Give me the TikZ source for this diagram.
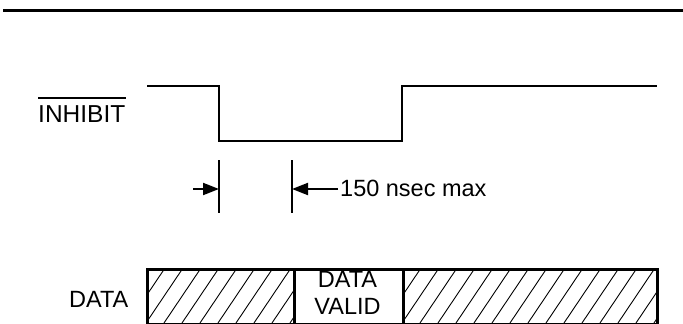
\documentclass[tikz,border=0pt]{standalone}
\usepackage{fontspec}
\setmainfont{Liberation Sans}
\usetikzlibrary{arrows.meta}
\begin{document}
\begin{tikzpicture}[x=1pt,y=-1pt,
  wave/.style={line width=2pt, line join=miter},
  rule/.style={line width=3pt},
  marker/.style={line width=2pt},
  dim/.style={line width=2pt, -{Triangle[length=16pt,width=12pt]}},
  boxline/.style={line width=2.8pt},
  hatch/.style={line width=0.9pt},
  lbl/.style={inner sep=0pt, anchor=base west, font=\fontsize{23.5}{28}\selectfont}]
\useasboundingbox (0,0) rectangle (683,324);
% top rule
\coordinate (r1) at (3,10);
\coordinate (r2) at (683,10);
\draw[rule] (r1) -- (r2);
% INHIBIT label
\node[lbl, font=\fontsize{24.5}{28}\selectfont] (inh) at (38,122) {INHIBIT};
\draw[line width=1.5pt] ([yshift=7pt]inh.north west) -- ([yshift=7pt]inh.north east);
% waveform
\coordinate (w0) at (147,86);
\coordinate (w1) at (219,86);
\coordinate (w2) at (219,141);
\coordinate (w3) at (402,141);
\coordinate (w4) at (402,86);
\coordinate (w5) at (657,86);
\draw[wave] (w0) -- (w1) -- (w2) -- (w3) -- (w4) -- (w5);
% timing markers
\coordinate (m1t) at (219,160);
\coordinate (m1b) at (219,213);
\coordinate (m2t) at (292,160);
\coordinate (m2b) at (292,213);
\draw[marker] (m1t) -- (m1b);
\draw[marker] (m2t) -- (m2b);
\coordinate (m1a) at (219,189);
\coordinate (m2a) at (292,189);
\coordinate (a1) at (193,189);
\node[lbl] (t150) at (340,196) {150 nsec max};
\draw[dim] (a1) -- (m1a);
\draw[dim] (t150.west |- m2a) ++(-2,0) coordinate (a2) (a2) -- (m2a);
% DATA label
\node[lbl] (dlab) at (69,307) {DATA};
% data boxes
\def\ytop{268}\def\ybot{323}
\begin{scope}
  \clip (146,\ytop) rectangle (293,\ybot);
  \foreach \x in {110,128,...,300} \draw[hatch] (\x,\ybot) -- ++(37,-55);
\end{scope}
\begin{scope}
  \clip (402,\ytop) rectangle (656,\ybot);
  \foreach \x in {366,384,...,660} \draw[hatch] (\x,\ybot) -- ++(37,-55);
\end{scope}
\node[draw, boxline, minimum width=147pt, minimum height=55pt, inner sep=0pt, anchor=north west] (b1) at (146,\ytop) {};
\node[draw, boxline, minimum width=109pt, minimum height=55pt, inner sep=0pt, anchor=north west] (b2) at (293,\ytop) {};
\node[draw, boxline, minimum width=254pt, minimum height=55pt, inner sep=0pt, anchor=north west] (b3) at (402,\ytop) {};
\node[inner sep=0pt, align=center, font=\fontsize{23.5}{27}\selectfont] (dv) at (347.5,293) {DATA\\VALID};
\end{tikzpicture}
\end{document}
